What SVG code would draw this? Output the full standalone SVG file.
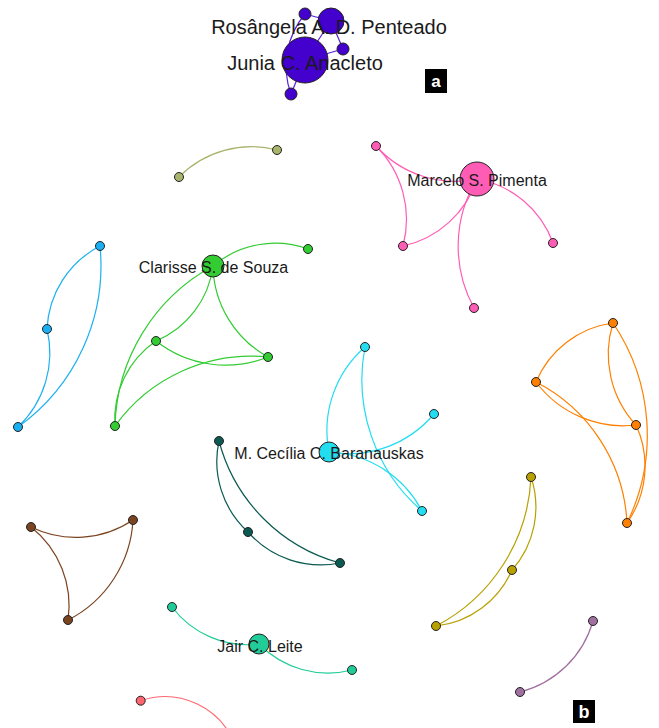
<svg xmlns="http://www.w3.org/2000/svg" width="659" height="728" viewBox="0 0 659 728">
<style>
.lk{fill:none;stroke-width:1.2}
.nd circle{stroke:#222;stroke-width:1}
.lb{font-family:"Liberation Sans",Arial,sans-serif;font-size:16px;fill:#1a1a1a;text-anchor:middle}
.lb20{font-size:20px}
.tag{font-family:"Liberation Sans",Arial,sans-serif;font-weight:bold;fill:#fff;text-anchor:middle}
</style>
<rect width="659" height="728" fill="#fff"/>
<g id="links">
<g stroke="#5522dd" class="lk">
<path d="M305,14 L331,21"/>
<path d="M331,21 L343,49"/>
<path d="M343,49 L305,60"/>
<path d="M331,21 L305,60"/>
<path d="M305,60 L291,94"/>
<path d="M305,14 A81,81 0 0,0 291,94"/>
</g>
<g stroke="#ff5cb6" class="lk">
<path d="M376,146 A106.3,106.3 0 0,0 477,179"/>
<path d="M376,146 A103.6,103.6 0 0,1 403,246"/>
<path d="M403,246 A99.8,99.8 0 0,0 477,179"/>
<path d="M477,179 A99.4,99.4 0 0,1 553,243"/>
<path d="M477,179 A129,129 0 0,0 474,308"/>
</g>
<g stroke="#a8b46c" class="lk">
<path d="M179,177 A101.7,101.7 0 0,1 277,150"/>
</g>
<g stroke="#3c3" class="lk">
<path d="M213,266 A96.5,96.5 0 0,1 308,249"/>
<path d="M115,426 A187.6,187.6 0 0,1 213,266"/>
<path d="M213,266 A94.2,94.2 0 0,1 156,341"/>
<path d="M213,266 A106.3,106.3 0 0,0 268,357"/>
<path d="M156,341 A113.1,113.1 0 0,0 268,357"/>
<path d="M115,426 A167.8,167.8 0 0,1 268,357"/>
<path d="M115,426 A94.4,94.4 0 0,1 156,341"/>
</g>
<g stroke="#1aaff0" class="lk">
<path d="M100,246 A98.5,98.5 0 0,0 47,329"/>
<path d="M47,329 A102.2,102.2 0 0,1 18,427"/>
<path d="M100,246 A198.7,198.7 0 0,1 18,427"/>
</g>
<g stroke="#22ddf0" class="lk">
<path d="M365,347 A111,111 0 0,0 329,452"/>
<path d="M365,347 A173.6,173.6 0 0,0 422,511"/>
<path d="M329,452 A111.7,111.7 0 0,0 434,414"/>
<path d="M329,452 A110.1,110.1 0 0,1 422,511"/>
</g>
<g stroke="#ff8000" class="lk">
<path d="M536,382 A97,97 0 0,1 613,323"/>
<path d="M613,323 A104.6,104.6 0 0,0 636,425"/>
<path d="M613,323 A200.5,200.5 0 0,1 627,523"/>
<path d="M536,382 A108.9,108.9 0 0,0 636,425"/>
<path d="M536,382 A167.8,167.8 0 0,1 627,523"/>
<path d="M636,425 A98.4,98.4 0 0,1 627,523"/>
</g>
<g stroke="#0b5a52" class="lk">
<path d="M219,441 A95.5,95.5 0 0,0 248,532"/>
<path d="M219,441 A171.8,171.8 0 0,0 340,563"/>
<path d="M248,532 A97.1,97.1 0 0,0 340,563"/>
</g>
<g stroke="#7b4421" class="lk">
<path d="M31,527 A102.2,102.2 0 0,0 133,520"/>
<path d="M31,527 A100.1,100.1 0 0,1 68,620"/>
<path d="M133,520 A119.3,119.3 0 0,1 68,620"/>
</g>
<g stroke="#b8a000" class="lk">
<path d="M531,477 A94.9,94.9 0 0,1 512,570"/>
<path d="M531,477 A176.7,176.7 0 0,1 436,626"/>
<path d="M512,570 A94.4,94.4 0 0,1 436,626"/>
</g>
<g stroke="#22cc99" class="lk">
<path d="M172,607 A94.5,94.5 0 0,0 259,644"/>
<path d="M259,644 A96.6,96.6 0 0,0 352,670"/>
</g>
<g stroke="#a070a0" class="lk">
<path d="M593,621 A101.8,101.8 0 0,1 520,692"/>
</g>
<g stroke="#ff6670" class="lk">
<path d="M140.7,700.7 A75,75 0 0,1 235,745"/>
</g>
</g>
<g id="n-top" class="nd" fill="#4400cc">
<circle cx="305" cy="14" r="6"/>
<circle cx="331" cy="21" r="13"/>
<circle cx="343" cy="49" r="6"/>
<circle cx="305" cy="60" r="23"/>
<circle cx="291" cy="94" r="6"/>
</g>
<g id="n-marcelo" class="nd" fill="#ff5cb6">
<circle cx="376" cy="146" r="4.5"/>
<circle cx="403" cy="246" r="4.5"/>
<circle cx="553" cy="243" r="4.5"/>
<circle cx="474" cy="308" r="4.5"/>
<circle cx="477" cy="179" r="17"/>
</g>
<g id="n-khaki" class="nd" fill="#a8b46c">
<circle cx="179" cy="177" r="4.5"/>
<circle cx="277" cy="150" r="4.5"/>
</g>
<g id="n-clarisse" class="nd" fill="#3c3">
<circle cx="308" cy="249" r="4.5"/>
<circle cx="156" cy="341" r="4.5"/>
<circle cx="268" cy="357" r="4.5"/>
<circle cx="115" cy="426" r="4.5"/>
<circle cx="213" cy="266" r="11"/>
</g>
<g id="n-blue" class="nd" fill="#1aaff0">
<circle cx="100" cy="246" r="4.5"/>
<circle cx="47" cy="329" r="4.5"/>
<circle cx="18" cy="427" r="4.5"/>
</g>
<g id="n-cecilia" class="nd" fill="#22ddf0">
<circle cx="365" cy="347" r="4.5"/>
<circle cx="434" cy="414" r="4.5"/>
<circle cx="422" cy="511" r="4.5"/>
<circle cx="329" cy="452" r="10"/>
</g>
<g id="n-orange" class="nd" fill="#ff8000">
<circle cx="613" cy="323" r="4.5"/>
<circle cx="536" cy="382" r="4.5"/>
<circle cx="636" cy="425" r="4.5"/>
<circle cx="627" cy="523" r="4.5"/>
</g>
<g id="n-darkteal" class="nd" fill="#0b5a52">
<circle cx="219" cy="441" r="4.5"/>
<circle cx="248" cy="532" r="4.5"/>
<circle cx="340" cy="563" r="4.5"/>
</g>
<g id="n-brown" class="nd" fill="#7b4421">
<circle cx="31" cy="527" r="4.5"/>
<circle cx="133" cy="520" r="4.5"/>
<circle cx="68" cy="620" r="4.5"/>
</g>
<g id="n-olive" class="nd" fill="#b8a000">
<circle cx="531" cy="477" r="4.5"/>
<circle cx="512" cy="570" r="4.5"/>
<circle cx="436" cy="626" r="4.5"/>
</g>
<g id="n-jair" class="nd" fill="#22cc99">
<circle cx="172" cy="607" r="4.5"/>
<circle cx="352" cy="670" r="4.5"/>
<circle cx="259" cy="644" r="10"/>
</g>
<g id="n-purple" class="nd" fill="#a070a0">
<circle cx="593" cy="621" r="4.5"/>
<circle cx="520" cy="692" r="4.5"/>
</g>
<g id="n-salmon" class="nd" fill="#ff6670">
<circle cx="140.7" cy="700.7" r="4.5"/>
</g>
<g id="labels">
<text class="lb lb20" x="329" y="34">Rosângela A. D. Penteado</text>
<text class="lb lb20" x="305" y="70">Junia C. Anacleto</text>
<text class="lb" x="477" y="186">Marcelo S. Pimenta</text>
<text class="lb" x="213.5" y="273">Clarisse S. de Souza</text>
<text class="lb" x="329" y="459">M. Cecília C. Baranauskas</text>
<text class="lb" x="260" y="652">Jair C. Leite</text>
</g>
<g id="tag-a">
<rect x="425" y="69" width="22" height="24" fill="#000"/>
<text class="tag" x="436" y="87" font-size="17">a</text>
</g>
<g id="tag-b">
<rect x="573" y="700" width="22" height="23" fill="#000"/>
<text class="tag" x="584" y="718" font-size="18">b</text>
</g>
</svg>
